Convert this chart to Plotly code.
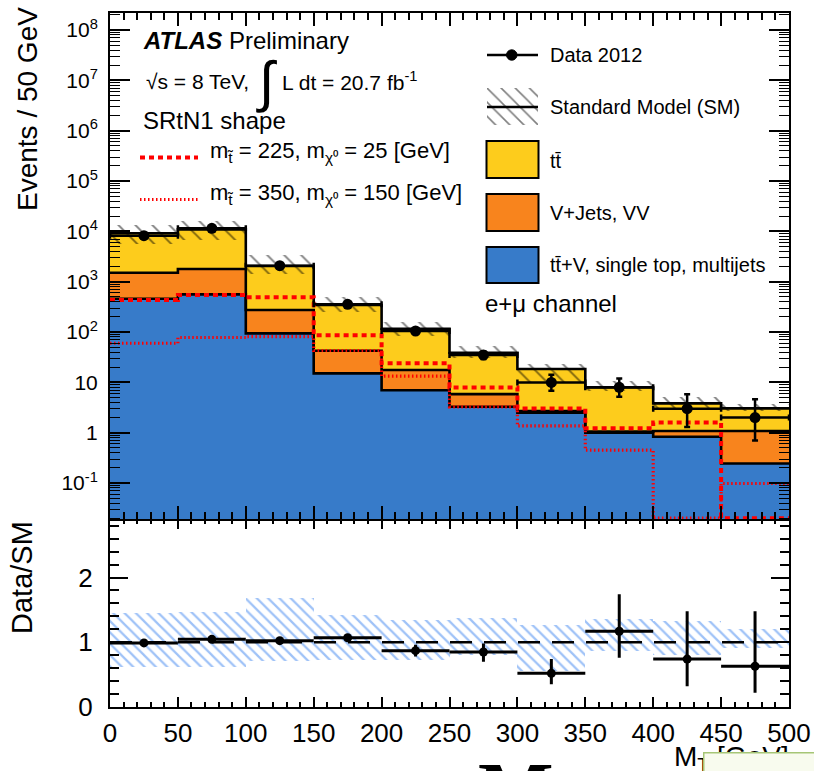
import numpy as np
import plotly.graph_objects as go

# ---------------------------------------------------------------- data
bin_edges = [0, 50, 100, 150, 200, 250, 300, 350, 400, 450, 500]

# Stacked SM prediction, cumulative heights (events / 50 GeV)
sm_total = [9170, 11000, 2050, 344, 116, 38.8, 18.4, 7.9, 3.83, 3.04]     # top of ttbar
vjets_top = [1510, 1790, 274, 42.5, 17.6, 5.85, 2.69, 1.05, 1.08, 1.08]  # top of V+jets, VV
other_top = [459, 562, 94, 15.1, 7.0, 3.27, 2.49, 1.0, 0.83, 0.245]      # ttV, single top, multijets

# SM uncertainty band, relative to the SM total
band_lo = [0.62, 0.62, 0.70, 0.72, 0.72, 0.80, 0.55, 0.86, 0.80, 0.90]
band_hi = [1.45, 1.46, 1.68, 1.42, 1.34, 1.37, 1.26, 1.36, 1.33, 1.20]

# Data 2012
data = [8220, 11500, 2080, 355, 105, 35, 10, 8, 3, 2]
data_err_lo = [91, 107, 46, 19, 10, 6, 3.2, 2.8, 1.7, 1.3]
data_err_hi = [91, 107, 46, 19, 10, 6, 4.2, 4.0, 2.8, 2.6]

# Signal benchmarks
sig_225_25 = [433, 545, 490, 86, 23.9, 7.95, 3.04, 1.22, 1.6, 0]
sig_350_150 = [60, 78, 81, 43, 13.3, 3.27, 1.37, 0.45, 0, 0.098]

# Data / SM
ratio = [0.99, 1.045, 1.025, 1.07, 0.87, 0.85, 0.52, 1.17, 0.74, 0.63]
ratio_err_lo = [0.02, 0.02, 0.03, 0.05, 0.09, 0.15, 0.17, 0.41, 0.42, 0.41]
ratio_err_hi = [0.02, 0.02, 0.03, 0.05, 0.09, 0.13, 0.22, 0.57, 0.74, 0.85]

log_tickvals = [0.1, 1, 10, 100, 1e3, 1e4, 1e5, 1e6, 1e7, 1e8]
log_ticktext = ["10<sup>-1</sup>", "1", "10", "10<sup>2</sup>", "10<sup>3</sup>",
                "10<sup>4</sup>", "10<sup>5</sup>", "10<sup>6</sup>",
                "10<sup>7</sup>", "10<sup>8</sup>"]

# ---------------------------------------------------------------- style
YELLOW = "#fdcc1c"
ORANGE = "#f8841d"
BLUE = "#377bc9"
RED = "#ff0000"
HATCH_BLUE = "#3f86f0"
FONT = "Liberation Sans, Arial, Helvetica, sans-serif"

W, H = 814, 771
ML, MR, MT, MB = 110, 25, 13, 64
PW, PH = W - ML - MR, H - MT - MB
SPLIT = 0.2705          # ratio pad / main pad boundary (paper)
LOG_FLOOR = 0.02        # empty signal bins are drawn at the bottom of the log pad


def fx(px):
    return (px - ML) / PW


def fy(py):
    return (H - MB - py) / PH


edges = np.array(bin_edges, dtype=float)
centers = 0.5 * (edges[:-1] + edges[1:])
widths = np.diff(edges)
half = widths / 2
total = np.array(sm_total)


def step_y(vals):
    vals = list(vals)
    return vals + [vals[-1]]


fig = go.Figure()

# ---------------------------------------------------------------- main pad
for top, col in ((sm_total, YELLOW), (vjets_top, ORANGE), (other_top, BLUE)):
    fig.add_trace(go.Bar(x=centers, y=top, width=widths, marker=dict(color=col, line_width=0),
                         xaxis="x2", yaxis="y2", showlegend=False, hoverinfo="skip"))

for top in (other_top, vjets_top, sm_total):
    fig.add_trace(go.Scatter(x=edges, y=step_y(top), mode="lines", line_shape="hv",
                             line=dict(color="black", width=2.6),
                             xaxis="x2", yaxis="y2", showlegend=False, hoverinfo="skip"))

# SM uncertainty hatch
fig.add_trace(go.Bar(
    x=centers, y=total * (np.array(band_hi) - np.array(band_lo)), base=total * np.array(band_lo),
    width=widths,
    marker=dict(color="rgba(0,0,0,0)", line_width=0,
                pattern=dict(shape="\\", fgcolor="black", bgcolor="rgba(0,0,0,0)",
                             size=12, solidity=0.16, fillmode="overlay")),
    xaxis="x2", yaxis="y2", showlegend=False, hoverinfo="skip"))

# signal benchmarks
sig_a = np.where(np.array(sig_225_25) > 0, sig_225_25, LOG_FLOOR)
sig_b = np.where(np.array(sig_350_150) > 0, sig_350_150, LOG_FLOOR)
fig.add_trace(go.Scatter(x=edges, y=step_y(sig_b), mode="lines", line_shape="hv",
                         line=dict(color=RED, width=3.2, dash="1.5px,2.5px"),
                         xaxis="x2", yaxis="y2", showlegend=False, hoverinfo="skip"))
fig.add_trace(go.Scatter(x=edges, y=step_y(sig_a), mode="lines", line_shape="hv",
                         line=dict(color=RED, width=4, dash="5px,4px"),
                         xaxis="x2", yaxis="y2", showlegend=False, hoverinfo="skip"))

# data
fig.add_trace(go.Scatter(
    x=centers, y=data, mode="markers",
    marker=dict(color="black", size=11),
    error_y=dict(type="data", symmetric=False, array=data_err_hi, arrayminus=data_err_lo,
                 color="black", thickness=2.5, width=3),
    error_x=dict(type="data", array=half, color="black", thickness=2.5, width=3),
    xaxis="x2", yaxis="y2", showlegend=False, hoverinfo="skip"))

# ---------------------------------------------------------------- ratio pad
fig.add_trace(go.Bar(
    x=centers, y=np.array(band_hi) - np.array(band_lo), base=band_lo, width=widths,
    marker=dict(color="rgba(0,0,0,0)", line_width=0,
                pattern=dict(shape="\\", fgcolor=HATCH_BLUE, bgcolor="rgba(0,0,0,0)",
                             size=8, solidity=0.28, fillmode="overlay")),
    xaxis="x", yaxis="y", showlegend=False, hoverinfo="skip"))

fig.add_trace(go.Scatter(
    x=centers, y=ratio, mode="markers",
    marker=dict(color="black", size=9),
    error_y=dict(type="data", symmetric=False, array=ratio_err_hi, arrayminus=ratio_err_lo,
                 color="black", thickness=3, width=0),
    error_x=dict(type="data", array=half, color="black", thickness=3, width=0),
    xaxis="x", yaxis="y", showlegend=False, hoverinfo="skip"))

# legend hatch swatch (own tiny axes)
fig.add_trace(go.Bar(
    x=[0.5], y=[1], width=[1],
    marker=dict(color="rgba(0,0,0,0)", line_width=0,
                pattern=dict(shape="\\", fgcolor="black", bgcolor="rgba(0,0,0,0)",
                             size=10, solidity=0.16, fillmode="overlay")),
    xaxis="x3", yaxis="y3", showlegend=False, hoverinfo="skip"))

# ---------------------------------------------------------------- axes
axis_common = dict(showgrid=False, zeroline=False, showline=True, linewidth=2,
                   linecolor="black", mirror="allticks", ticks="inside",
                   tickcolor="black", tickwidth=1.5, automargin=False)

log_minor = [k * 10.0 ** e for e in range(-2, 9) for k in range(2, 10)]

fig.update_layout(
    width=W, height=H,
    margin=dict(l=ML, r=MR, t=MT, b=MB, autoexpand=False),
    paper_bgcolor="white", plot_bgcolor="rgba(0,0,0,0)",
    barmode="overlay", bargap=0,
    font=dict(family=FONT, color="black"),
    xaxis=dict(**axis_common, domain=[0, 1], anchor="y", range=[0, 500],
               tick0=0, dtick=50, ticklen=10, ticklabelstandoff=2,
               minor=dict(ticks="inside", dtick=10, ticklen=5, tickwidth=1.5, tickcolor="black"),
               tickfont=dict(size=26)),
    yaxis=dict(**axis_common, domain=[0, SPLIT], anchor="x", range=[0, 2.9],
               tick0=0, dtick=1, ticklen=18, ticklabelstandoff=10,
               minor=dict(ticks="inside", dtick=0.2, ticklen=9, tickwidth=1.5, tickcolor="black"),
               tickfont=dict(size=26)),
    xaxis2=dict(**axis_common, domain=[0, 1], anchor="y2", range=[0, 500], matches="x",
                tick0=0, dtick=50, ticklen=13, showticklabels=False,
                minor=dict(ticks="inside", dtick=10, ticklen=7, tickwidth=1.5, tickcolor="black")),
    yaxis2=dict(**axis_common, domain=[SPLIT, 1], anchor="x2", type="log", range=[-1.72, 8.34],
                tickmode="array", tickvals=log_tickvals, ticktext=log_ticktext,
                ticklen=20, ticklabelstandoff=6,
                minor=dict(ticks="inside", tickmode="array", tickvals=log_minor,
                           ticklen=10, tickwidth=1.3, tickcolor="black"),
                tickfont=dict(size=21)),
    xaxis3=dict(domain=[fx(487), fx(538)], anchor="y3", range=[0, 1], visible=False),
    yaxis3=dict(domain=[fy(125), fy(88)], anchor="x3", range=[0, 1], visible=False),
)

# ---------------------------------------------------------------- shapes
shapes = []
# ratio reference line
shapes.append(dict(type="line", xref="x", yref="y", x0=0, x1=500, y0=1, y1=1,
                   line=dict(color="black", width=2.5, dash="22px,12px"), layer="above"))
# legend: data
shapes.append(dict(type="line", xref="paper", yref="paper", x0=fx(487), x1=fx(538),
                   y0=fy(55), y1=fy(55), line=dict(color="black", width=2.5)))
shapes.append(dict(type="circle", xref="paper", yref="paper", x0=fx(506.5), x1=fx(517),
                   y0=fy(60.2), y1=fy(49.8), fillcolor="black", line=dict(color="black", width=1)))
# legend: SM line through hatch
shapes.append(dict(type="line", xref="paper", yref="paper", x0=fx(487), x1=fx(538),
                   y0=fy(107), y1=fy(107), line=dict(color="black", width=2.5)))
# legend: filled boxes
for (ytop, ybot), col in (((141, 178), YELLOW), ((194, 231), ORANGE), ((247, 283), BLUE)):
    shapes.append(dict(type="rect", xref="paper", yref="paper", x0=fx(486.5), x1=fx(538.5),
                       y0=fy(ybot), y1=fy(ytop), fillcolor=col,
                       line=dict(color="black", width=2)))
# signal legend lines
shapes.append(dict(type="line", xref="paper", yref="paper", x0=fx(140), x1=fx(198),
                   y0=fy(157.5), y1=fy(157.5), line=dict(color=RED, width=4, dash="5px,4px")))
shapes.append(dict(type="line", xref="paper", yref="paper", x0=fx(140), x1=fx(198),
                   y0=fy(199.5), y1=fy(199.5), line=dict(color=RED, width=3.2, dash="1.5px,2.5px")))
fig.update_layout(shapes=shapes)

# ---------------------------------------------------------------- text
ann = []


def text(px, py, s, size, xanchor="left", yanchor="middle", **kw):
    ann.append(dict(x=fx(px), y=fy(py), xref="paper", yref="paper", text=s, showarrow=False,
                    xanchor=xanchor, yanchor=yanchor, font=dict(size=size, family=FONT, color="black"),
                    **kw))


text(27, 5, "Events / 50 GeV", 28, xanchor="center", yanchor="top", textangle=-90)
text(22, 577, "Data/SM", 29, xanchor="center", textangle=-90)

text(141, 40, "<b><i>ATLAS</i></b> Preliminary", 24)
text(144, 81, "√s = 8 TeV,", 21)
text(266, 81, "∫", 56, xanchor="center")
text(280, 81, "L dt = 20.7 fb<sup>-1</sup>", 21)
text(141, 121, "SRtN1 shape", 24)
text(208, 152, "m<sub>t̃</sub> = 225, m<sub>χ⁰</sub> = 25 [GeV]", 22)
text(208, 194, "m<sub>t̃</sub> = 350, m<sub>χ⁰</sub> = 150 [GeV]", 22)

text(548, 55, "Data 2012", 20)
text(548, 107, "Standard Model (SM)", 20)
text(548, 161, "tt̄", 20)
text(548, 213, "V+Jets, VV", 20)
text(548, 265, "tt̄+V, single top, multijets", 20)
text(483, 303, "e+μ channel", 24)

# x-axis title, partly hidden behind the note box below it
text(791, 758, "M<sub>T</sub> [GeV]", 28, xanchor="right")
ann.append(dict(x=fx(703), y=fy(751.5), xref="paper", yref="paper", text=" ", showarrow=False,
                xanchor="left", yanchor="top", width=120, height=30, bgcolor="#f8fbee",
                bordercolor="#a6c676", borderwidth=1.5, borderpad=0))
ann.append(dict(x=fx(516), y=fy(745), xref="paper", yref="paper", text="<b>M</b>", showarrow=False,
                xanchor="center", yanchor="top",
                font=dict(size=80, family="Liberation Serif, Times New Roman, serif", color="black")))

fig.update_layout(annotations=ann)

fig.write_html("out.html")
